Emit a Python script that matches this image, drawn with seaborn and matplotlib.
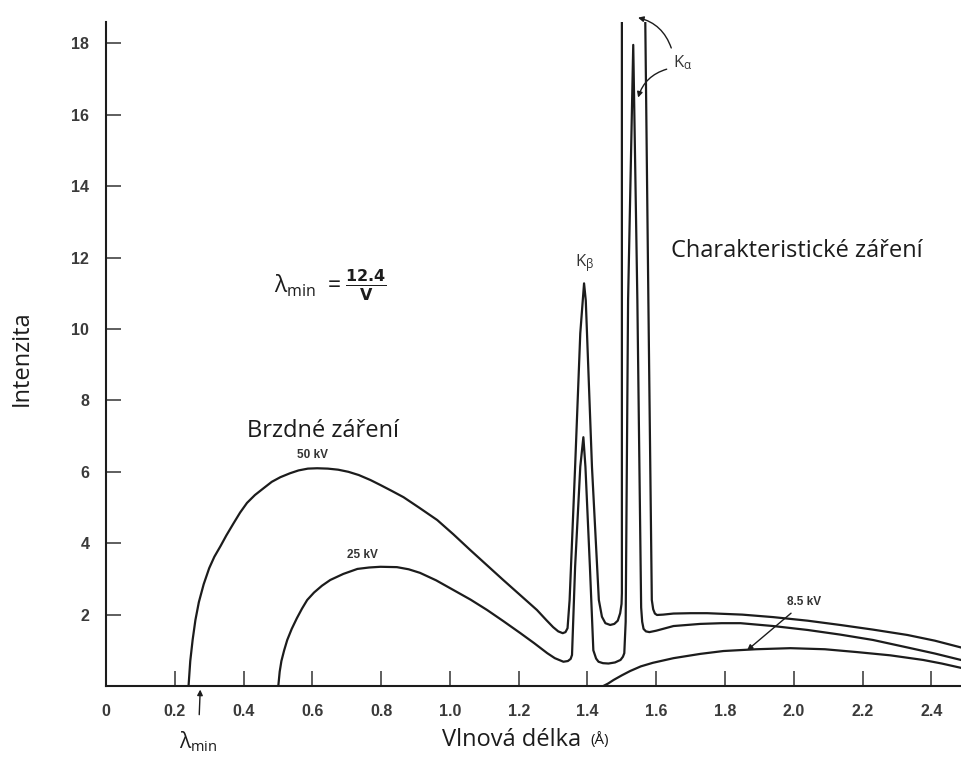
import pandas as pd
import matplotlib.pyplot as plt
import seaborn as sns

# hodnoty (vlnová délka v Å, intenzita)
x_50kv = [0.240, 0.245, 0.252, 0.260, 0.270, 0.284, 0.300, 0.315, 0.333, 0.350, 0.371, 0.390,
          0.410, 0.433, 0.458, 0.482, 0.507, 0.535, 0.560, 0.587, 0.614, 0.645, 0.675, 0.705,
          0.735, 0.769, 0.798, 0.830, 0.865, 0.910, 0.963, 1.010, 1.059, 1.155, 1.253, 1.280,
          1.300, 1.315, 1.328, 1.336, 1.342, 1.348, 1.364, 1.379, 1.390, 1.395, 1.413, 1.433,
          1.442, 1.452, 1.466, 1.478, 1.488, 1.495, 1.499, 1.500, 1.500, 1.567, 1.577, 1.587,
          1.591, 1.596, 1.602, 1.620, 1.650, 1.700, 1.748, 1.850, 1.940, 2.040, 2.135, 2.230,
          2.330, 2.410, 2.490]
y_50kv = [0.0, 0.70, 1.30, 1.85, 2.35, 2.85, 3.30, 3.62, 3.92, 4.22, 4.56, 4.86,
          5.13, 5.35, 5.54, 5.72, 5.85, 5.96, 6.04, 6.09, 6.10, 6.09, 6.06, 6.00,
          5.91, 5.77, 5.63, 5.47, 5.29, 5.00, 4.65, 4.25, 3.81, 2.97, 2.13, 1.85,
          1.65, 1.53, 1.48, 1.51, 1.62, 2.41, 6.14, 9.88, 11.28, 10.8, 6.14, 2.41,
          1.94, 1.76, 1.71, 1.74, 1.83, 2.04, 2.30, 2.60, 19.5, 19.5, 10.8, 2.41,
          2.15, 2.03, 1.99, 2.00, 2.03, 2.04, 2.04, 2.00, 1.93, 1.83, 1.71, 1.58,
          1.43, 1.27, 1.07]

x_25kv = [0.501, 0.505, 0.510, 0.518, 0.527, 0.540, 0.555, 0.570, 0.585, 0.605, 0.628, 0.652,
          0.690, 0.731, 0.765, 0.798, 0.846, 0.880, 0.913, 0.960, 1.010, 1.060, 1.108, 1.155,
          1.205, 1.245, 1.283, 1.305, 1.330, 1.343, 1.351, 1.355, 1.364, 1.379, 1.388, 1.394,
          1.407, 1.417, 1.425, 1.432, 1.445, 1.461, 1.480, 1.496, 1.503, 1.507, 1.511, 1.518,
          1.533, 1.545, 1.556, 1.559, 1.563, 1.570, 1.580, 1.600, 1.650, 1.728, 1.790, 1.845,
          1.940, 2.040, 2.135, 2.230, 2.330, 2.410, 2.490]
y_25kv = [0.0, 0.40, 0.70, 1.00, 1.29, 1.60, 1.90, 2.17, 2.41, 2.62, 2.81, 2.97,
          3.14, 3.28, 3.32, 3.34, 3.33, 3.27, 3.17, 2.96, 2.69, 2.42, 2.13, 1.82,
          1.48, 1.20, 0.92, 0.78, 0.68, 0.70, 0.76, 0.87, 3.34, 6.14, 6.97, 6.14,
          3.34, 1.00, 0.77, 0.68, 0.64, 0.63, 0.66, 0.73, 0.82, 0.92, 1.80, 10.8,
          17.96, 10.8, 2.20, 1.80, 1.60, 1.53, 1.51, 1.55, 1.68, 1.74, 1.76, 1.76,
          1.68, 1.57, 1.44, 1.29, 1.08, 0.91, 0.72]

x_8kv = [1.446, 1.460, 1.476, 1.500, 1.524, 1.555, 1.590, 1.650, 1.728, 1.795, 1.890, 1.990,
         2.090, 2.184, 2.280, 2.376, 2.430, 2.490]
y_8kv = [0.0, 0.07, 0.17, 0.30, 0.42, 0.55, 0.65, 0.78, 0.90, 0.98, 1.03, 1.06,
         1.03, 0.95, 0.86, 0.73, 0.63, 0.50]

x_ticks = [0, 0.2, 0.4, 0.6, 0.8, 1.0, 1.2, 1.4, 1.6, 1.8, 2.0, 2.2, 2.4]
x_labels = ['0', '0.2', '0.4', '0.6', '0.8', '1.0', '1.2', '1.4', '1.6', '1.8', '2.0', '2.2', '2.4']
y_ticks = [2, 4, 6, 8, 10, 12, 14, 16, 18]

df = pd.concat([
    pd.DataFrame({'x': x_50kv, 'y': y_50kv, 'krivka': '50 kV'}),
    pd.DataFrame({'x': x_25kv, 'y': y_25kv, 'krivka': '25 kV'}),
    pd.DataFrame({'x': x_8kv, 'y': y_8kv, 'krivka': '8.5 kV'}),
], ignore_index=True)

sns.set_theme(style='ticks')
plt.rcParams['font.family'] = ['Open Sans', 'DejaVu Sans']
plt.rcParams['mathtext.default'] = 'regular'

fig = plt.figure(figsize=(9.61, 7.63), dpi=100)
ax = fig.add_axes([0.1103, 0.1009, 0.8897, 0.8702])

ink = '#1c1c1c'
sns.lineplot(data=df, x='x', y='y', units='krivka', estimator=None, sort=False,
             color=ink, lw=1.6, ax=ax, legend=False, solid_joinstyle='round')

ax.set_xlim(0, 2.486)
ax.set_ylim(0, 18.6)
sns.despine(ax=ax)
for s in ['left', 'bottom']:
    ax.spines[s].set_linewidth(1.5)
    ax.spines[s].set_color(ink)

ax.set_xticks(x_ticks)
ax.set_xticklabels(x_labels)
ax.set_yticks(y_ticks)
ax.tick_params(direction='in', length=11, width=1.1, color='#333333')
ax.tick_params(axis='x', pad=13)
ax.tick_params(axis='y', pad=12)
for lab in ax.get_xticklabels() + ax.get_yticklabels():
    lab.set_family('Liberation Sans')
    lab.set_fontweight('bold')
    lab.set_fontsize(11.5)
    lab.set_color('#3a3a3a')
ax.set_xlabel('')
ax.set_ylabel('')

# popisky os
fig.text(0.023, 0.531, 'Intenzita', rotation=90, ha='center', va='center', fontsize=17, color=ink)
fig.text(0.460, 0.030, 'Vlnová délka', ha='left', va='center', fontsize=17, color=ink)
fig.text(0.614, 0.030, '(Å)', ha='left', va='center', fontsize=11, color=ink)

# texty v grafu
ax.text(0.411, 7.14, 'Brzdné záření', ha='left', va='center', fontsize=17, color=ink)
ax.text(2.01, 12.2, 'Charakteristické záření', ha='center', va='center', fontsize=17, color=ink)

small = dict(family='Liberation Sans', fontweight='bold', fontsize=8.5, color='#333333',
             ha='center', va='center')
ax.text(0.600, 6.47, '50 kV', **small)
ax.text(0.745, 3.67, '25 kV', **small)

ax.text(0.652, 11.23, r'$\lambda_{min}\ = \frac{\mathbf{12.4}}{\mathbf{V}}$', ha='center',
        va='center', fontsize=16.5, color=ink)
ax.text(1.391, 11.85, r'$K_\beta$', ha='center', va='center', fontsize=12, color='#333333')
ax.text(1.677, 17.45, r'$K_\alpha$', ha='center', va='center', fontsize=12, color='#333333')

arr = dict(arrowstyle='-|>', color=ink, lw=1.0, mutation_scale=8)
ax.annotate('', xy=(1.539, 18.74), xytext=(1.646, 17.8), annotation_clip=False,
            arrowprops=dict(arr, connectionstyle='arc3,rad=0.3'))
ax.annotate('', xy=(1.545, 16.41), xytext=(1.638, 17.3), annotation_clip=False,
            arrowprops=dict(arr, connectionstyle='arc3,rad=0.3'))
ax.annotate('8.5 kV', xy=(1.864, 1.0), xytext=(2.03, 2.35), annotation_clip=False,
            arrowprops=dict(arr, shrinkA=2, shrinkB=0), **small)
ax.annotate(r'$\lambda_{min}$', xy=(0.274, -0.1), xytext=(0.268, -1.55),
            annotation_clip=False, ha='center', va='center', fontsize=15, color=ink,
            arrowprops=dict(arr, shrinkA=8, shrinkB=0))

fig.savefig('out.png', dpi=100)
